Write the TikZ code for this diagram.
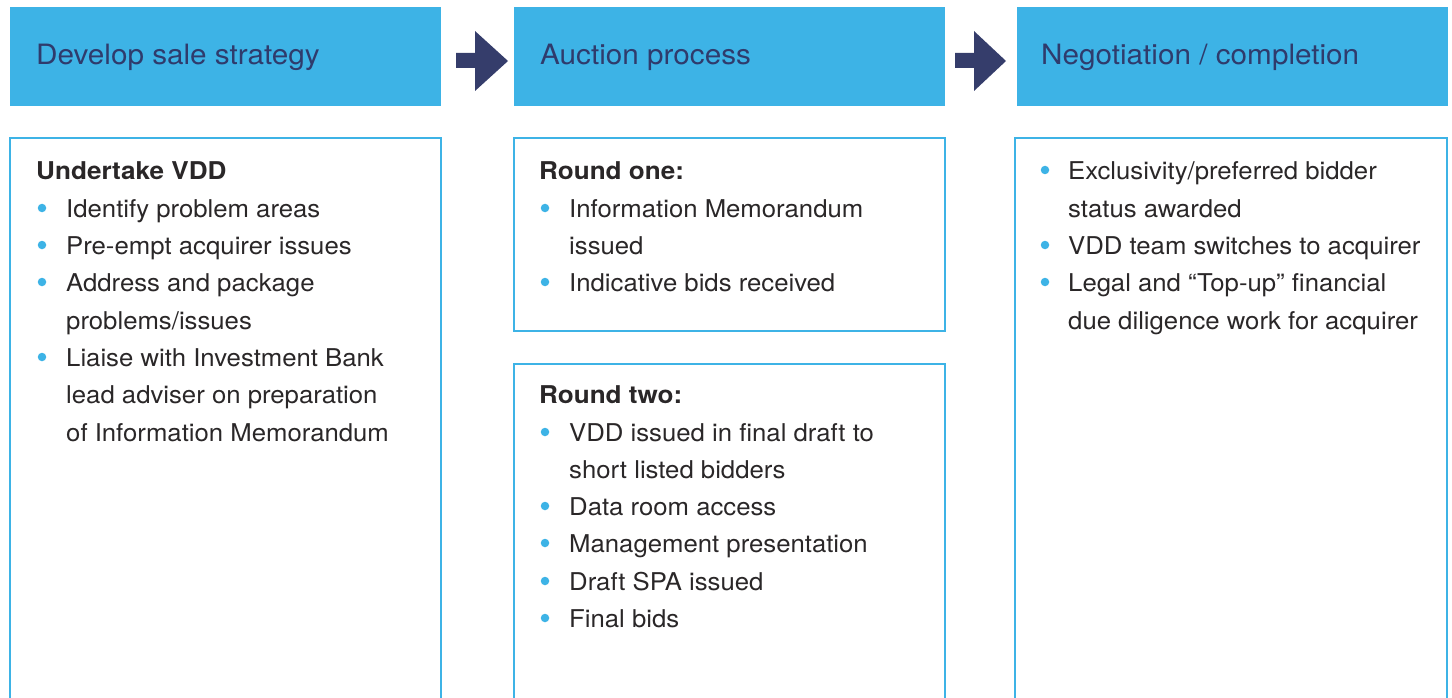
\documentclass[tikz,border=0pt]{standalone}
\usepackage{fontspec}
\setmainfont{TeX Gyre Heros}[FakeStretch=1.05,BoldFeatures={FakeStretch=1.065}]
\newfontfamily\hfont{TeX Gyre Heros}[FakeStretch=1.06]
\definecolor{hblue}{HTML}{3DB3E6}
\definecolor{navy}{HTML}{2F3B6C}
\definecolor{arrowc}{HTML}{353D6B}
\definecolor{bodyc}{HTML}{2A2728}
\begin{document}
\begin{tikzpicture}[x=1pt,y=-1pt,
  headbox/.style={fill=hblue,draw=none},
  headtxt/.style={anchor=base west,inner sep=0pt,text=navy,font=\hfont\fontsize{28}{32}\selectfont},
  cbox/.style={draw=hblue,line width=1.8pt,fill=white},
  line/.style={anchor=base west,inner sep=0pt,text=bodyc,font=\fontsize{24.5}{30}\selectfont},
  bline/.style={line,font=\fontsize{24.5}{30}\selectfont\bfseries},
  bul/.style={circle,fill=hblue,inner sep=0pt,minimum size=8.5pt},
  flowarrow/.style={fill=arrowc,draw=none}]
\useasboundingbox (0,0) rectangle (1452,698);
\clip (0,0) rectangle (1452,698);
% headers
\fill[headbox] (10,7) rectangle (441,106);
\fill[headbox] (514,7) rectangle (945,106);
\fill[headbox] (1017,7) rectangle (1448,106);
\node[headtxt] (h1) at (36,65) {Develop sale strategy};
\node[headtxt] (h2) at (540,65) {Auction process};
\node[headtxt] (h3) at (1041,65) {Negotiation / completion};
% arrows
\fill[flowarrow] (456,53) -- (475,53) -- (475,31) -- (508,61) -- (475,91) -- (475,68) -- (456,68) -- cycle;
\fill[flowarrow] (955,53) -- (974,53) -- (974,31) -- (1006,61) -- (974,91) -- (974,68) -- (955,68) -- cycle;
% content boxes
\draw[cbox] (10,138) rectangle (441,720);
\draw[cbox] (514,138) rectangle (945,331);
\draw[cbox] (514,364) rectangle (945,720);
\draw[cbox] (1015,138) rectangle (1447,720);
% box 1
\node[bline] (a0) at (36,179) {Undertake VDD};
\node[bul] (ab1) at (42,208) {}; \node[line] (a1) at (66,217) {Identify problem areas};
\node[bul] (ab2) at (42,245) {}; \node[line] (a2) at (66,254) {Pre-empt acquirer issues};
\node[bul] (ab3) at (42,282) {}; \node[line] (a3) at (66,291) {Address and package};
\node[line] (a4) at (66,329) {problems/issues};
\node[bul] (ab5) at (42,357) {}; \node[line] (a5) at (66,366) {Liaise with Investment Bank};
\node[line] (a6) at (66,403) {lead adviser on preparation};
\node[line] (a7) at (66,441) {of Information Memorandum};
% box 2a
\node[bline] (b0) at (539,179) {Round one:};
\node[bul] (bb1) at (545,208) {}; \node[line] (b1) at (569,217) {Information Memorandum};
\node[line] (b2) at (569,254) {issued};
\node[bul] (bb3) at (545,282) {}; \node[line] (b3) at (569,291) {Indicative bids received};
% box 2b
\node[bline] (c0) at (539,403) {Round two:};
\node[bul] (cb1) at (545,432) {}; \node[line] (c1) at (569,441) {VDD issued in final draft to};
\node[line] (c2) at (569,478) {short listed bidders};
\node[bul] (cb3) at (545,506) {}; \node[line] (c3) at (569,515) {Data room access};
\node[bul] (cb4) at (545,543) {}; \node[line] (c4) at (569,552) {Management presentation};
\node[bul] (cb5) at (545,581) {}; \node[line] (c5) at (569,590) {Draft SPA issued};
\node[bul] (cb6) at (545,618) {}; \node[line] (c6) at (569,627) {Final bids};
% box 3
\node[bul] (db1) at (1045,170) {}; \node[line] (d1) at (1068,179) {Exclusivity/preferred bidder};
\node[line] (d2) at (1068,217) {status awarded};
\node[bul] (db3) at (1045,245) {}; \node[line] (d3) at (1068,254) {VDD team switches to acquirer};
\node[bul] (db4) at (1045,282) {}; \node[line] (d4) at (1068,291) {Legal and “Top-up” financial};
\node[line] (d5) at (1068,329) {due diligence work for acquirer};
\end{tikzpicture}
\end{document}
